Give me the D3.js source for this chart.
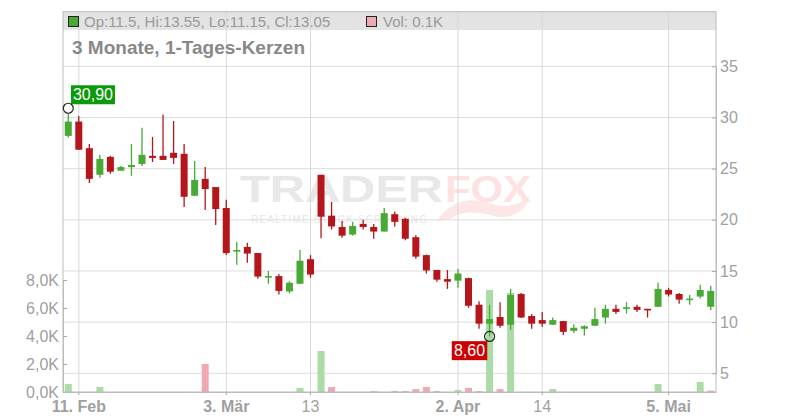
<!DOCTYPE html>
<html><head><meta charset="utf-8">
<script src="https://cdn.jsdelivr.net/npm/d3@7"></script>
<style>body{margin:0;background:#fff;} svg{display:block;font-family:"Liberation Sans",Arial,sans-serif;}</style>
</head><body><svg id="c" width="800" height="420"></svg>
<script>
// ---- data (daily candles, oldest first) ----
const opens  = [28.2,29.6,27.0,24.4,26.15,24.8,25.15,25.45,26.25,26.25,26.55,26.45,22.35,24.0,23.2,21.15,17.0,17.35,16.75,14.45,14.5,13.0,13.75,16.15,24.4,20.4,19.3,18.55,19.6,19.3,18.85,20.55,20.1,18.3,16.55,15.1,14.2,14.05,14.3,11.7,9.85,10.5,9.75,12.75,10.6,10.2,9.75,10.1,9.15,9.35,9.65,10.45,11.3,11.3,11.5,11.3,11.5,13.15,12.75,12.2,12.5,11.5];
const highs  = [30.9,30.15,27.4,26.35,26.25,25.25,27.4,29.0,28.1,30.3,29.65,27.4,25.75,25.15,23.2,21.95,17.85,17.75,16.75,15.0,14.7,14.0,17.05,16.55,24.4,21.75,19.9,19.8,20.0,19.6,21.15,20.8,20.2,18.5,16.6,15.1,15.1,15.2,14.35,12.05,11.7,11.95,13.25,12.85,10.8,11.0,10.45,10.1,9.8,9.7,11.4,11.7,11.7,11.95,11.7,11.3,13.85,13.35,12.85,12.65,13.65,13.55];
const lows   = [28.05,26.85,23.6,24.1,24.5,24.8,24.3,25.25,25.65,25.85,25.45,21.25,22.3,20.95,19.5,16.55,15.6,15.8,14.25,13.75,12.7,12.8,13.75,14.35,18.2,19.05,18.25,18.45,19.05,18.15,18.85,19.35,18.0,16.2,14.75,13.95,13.25,13.35,11.4,9.35,8.6,9.45,9.25,10.4,9.35,9.55,9.75,8.75,8.95,8.7,9.65,9.85,10.8,10.85,11.0,10.45,11.5,12.5,11.8,11.7,12.3,11.15];
const closes = [29.6,26.85,24.0,25.95,24.7,25.15,25.35,26.35,26.05,25.85,26.05,22.25,23.9,23.0,21.05,16.75,17.05,16.7,14.45,14.5,13.05,13.85,16.0,14.65,20.3,19.35,18.45,19.4,19.3,18.85,20.65,19.8,18.15,16.4,15.05,14.15,13.95,14.75,11.6,9.85,10.3,9.65,12.65,10.45,9.85,9.85,10.2,9.05,9.45,9.6,10.3,11.3,11.0,11.45,11.2,11.25,13.25,12.7,12.2,12.3,13.15,13.05];
const volumes= [570,0,0,360,0,0,0,0,0,0,0,0,0,2000,0,0,0,0,0,0,0,0,290,0,2930,360,0,0,0,70,0,70,70,210,360,70,0,140,290,70,7290,210,7070,0,0,0,210,0,0,0,0,0,0,0,0,0,570,0,0,0,710,100];
const tickIndex  = [1,15,23,37,45,57];
const tickLabels = ["11. Feb","3. Mär","13","2. Apr","14","5. Mai"];
const tickBold   = [true,true,false,true,false,true];
const priceTicks = [5,10,15,20,25,30,35];
const volTicks   = [0,2000,4000,6000,8000];
const titleText  = "3 Monate, 1-Tages-Kerzen";

// ---- layout ----
const L=63, R=716, T=11.7, B=392;
const UP="#48a935", DOWN="#b5161b", VUP="#abdca7", VDOWN="#f0a9b2";
const n = closes.length;
const svg = d3.select("#c");

const xb = d3.scaleBand().domain(d3.range(n)).range([L,R]);
const xc = i => xb(i) + xb.bandwidth()/2;
const y  = d3.scaleLinear().domain([5,35]).range([373.3,66.3]);
const yv = d3.scaleLinear().domain([0,8000]).range([B,280]);
const comma = v => d3.format(".2f")(v).replace(".",",");

// legend bar background
svg.append("rect").attr("x",L).attr("y",T).attr("width",R-L).attr("height",30-T).attr("fill","#e3e3e3");

// watermark
const wm = svg.append("g");
wm.append("text").attr("x",240).attr("y",202).attr("font-size",37).attr("font-weight","bold")
  .attr("textLength",203).attr("lengthAdjust","spacingAndGlyphs").attr("fill","#e8e8e8").text("TRADER");
wm.append("path").attr("fill","#fde6e6")
  .attr("d","M436,222 C450,200 470,196 492,204 C505,208 518,206 530,196 C526,212 510,220 494,216 C480,212 462,210 452,218 Z");
wm.append("text").attr("x",445).attr("y",202).attr("font-size",37).attr("font-weight","bold")
  .attr("textLength",86).attr("lengthAdjust","spacingAndGlyphs").attr("fill","#fde2e2").text("FOX");
wm.append("text").attr("x",251).attr("y",222.5).attr("font-size",10)
  .attr("textLength",176).attr("lengthAdjust","spacing").attr("fill","#e6e6e6").text("REALTIME STOCK SCREENING");

// gridlines
svg.append("g").selectAll("line").data(priceTicks).join("line")
  .attr("x1",L).attr("x2",R).attr("y1",d=>y(d)).attr("y2",d=>y(d))
  .attr("stroke","#dcdcdc").attr("stroke-width",1);
svg.append("g").selectAll("line").data(tickIndex).join("line")
  .attr("x1",d=>xc(d)).attr("x2",d=>xc(d)).attr("y1",T).attr("y2",B)
  .attr("stroke","#d8d8d8").attr("stroke-width",1);

// volume bars
svg.append("g").selectAll("rect").data(d3.range(n).filter(i=>volumes[i]>0)).join("rect")
  .attr("x",i=>xc(i)-3.5).attr("width",7)
  .attr("y",i=>yv(volumes[i])).attr("height",i=>B-yv(volumes[i]))
  .attr("fill",i=> (i===0 || closes[i]>=closes[i-1]) ? VUP : VDOWN);

// candles
const cg = svg.append("g").selectAll("g").data(d3.range(n)).join("g");
cg.append("line")
  .attr("x1",xc).attr("x2",xc).attr("y1",i=>y(highs[i])).attr("y2",i=>y(lows[i]))
  .attr("stroke",i=>closes[i]>=opens[i]?UP:DOWN).attr("stroke-width",1.3);
cg.append("rect")
  .attr("x",i=>xc(i)-3.5).attr("width",7)
  .attr("y",i=>y(Math.max(opens[i],closes[i])))
  .attr("height",i=>Math.max(1.6, Math.abs(y(opens[i])-y(closes[i]))))
  .attr("fill",i=>closes[i]>=opens[i]?UP:DOWN);

// frame
svg.append("rect").attr("x",L).attr("y",T).attr("width",R-L).attr("height",B-T)
  .attr("fill","none").attr("stroke","#bbb").attr("stroke-width",1);

// axes
const axStyle = g => {
  g.select(".domain").attr("stroke","#bbb");
  g.selectAll(".tick line").attr("stroke","#aaa");
  g.selectAll("text").attr("fill","#a0a0a0").attr("font-size",16).attr("font-family","Liberation Sans, Arial, sans-serif");
};
svg.append("g").attr("transform",`translate(${R},0)`)
  .call(d3.axisRight(y).tickValues(priceTicks).tickSizeInner(-4).tickSizeOuter(0).tickPadding(4))
  .call(axStyle);
svg.append("g").attr("transform",`translate(${L},0)`)
  .call(d3.axisLeft(yv).tickValues(volTicks).tickSizeInner(-4).tickSizeOuter(0).tickPadding(4)
        .tickFormat(d=>d3.format(".1f")(d/1000).replace(".",",")+"K"))
  .call(axStyle);
const xa = svg.append("g").attr("transform",`translate(0,${B})`)
  .call(d3.axisBottom(xb).tickValues(tickIndex).tickSizeInner(3).tickSizeOuter(0).tickPadding(5.5)
        .tickFormat((d,k)=>tickLabels[k]))
  .call(axStyle);
xa.selectAll(".tick text").attr("font-weight",(d,k)=>tickBold[k]?"bold":"normal");

// high / low markers
const hiI = d3.maxIndex(highs), loI = d3.minIndex(lows);
const hx = xc(hiI), hy = y(highs[hiI]);
const hiW = 44;
svg.append("rect").attr("x",hx+2.7).attr("y",hy-23).attr("width",hiW).attr("height",19).attr("fill","#0a9a0a");
svg.append("text").attr("x",hx+2.7+hiW/2).attr("y",hy-8).attr("text-anchor","middle")
  .attr("font-size",16).attr("fill","#fff").text(comma(highs[hiI]));
svg.append("circle").attr("cx",hx).attr("cy",hy).attr("r",5).attr("fill","#fff").attr("stroke","#222").attr("stroke-width",1.2);
const lx = xc(loI), ly = y(lows[loI]);
const loW = 35.5;
svg.append("rect").attr("x",lx-2.3-loW).attr("y",ly+4.7).attr("width",loW).attr("height",19).attr("fill","#cc0000");
svg.append("text").attr("x",lx-2.3-loW/2).attr("y",ly+19.7).attr("text-anchor","middle")
  .attr("font-size",16).attr("fill","#fff").text(comma(lows[loI]));
svg.append("circle").attr("cx",lx).attr("cy",ly).attr("r",5).attr("fill","none").attr("stroke","#222").attr("stroke-width",1.2);

// legend
const li = n-1;
const lastUp = closes[li]>=opens[li];
svg.append("rect").attr("x",68.5).attr("y",16.5).attr("width",10).attr("height",10)
  .attr("fill",lastUp?UP:DOWN).attr("stroke","#222").attr("stroke-width",1);
svg.append("text").attr("x",84).attr("y",26.5).attr("font-size",15).attr("fill","#999")
  .text(`Op:${opens[li]}, Hi:${highs[li]}, Lo:${lows[li]}, Cl:${closes[li]}`);
svg.append("rect").attr("x",366.5).attr("y",16.5).attr("width",10).attr("height",10)
  .attr("fill",(closes[li]>=closes[li-1])?VUP:VDOWN).attr("stroke","#222").attr("stroke-width",1);
svg.append("text").attr("x",383).attr("y",26.5).attr("font-size",15).attr("fill","#999")
  .text(`Vol: ${(volumes[li]/1000).toFixed(1)}K`);

// title
svg.append("text").attr("x",72).attr("y",54).attr("font-size",19).attr("font-weight","bold")
  .attr("fill","#888").text(titleText);
</script></body></html>
